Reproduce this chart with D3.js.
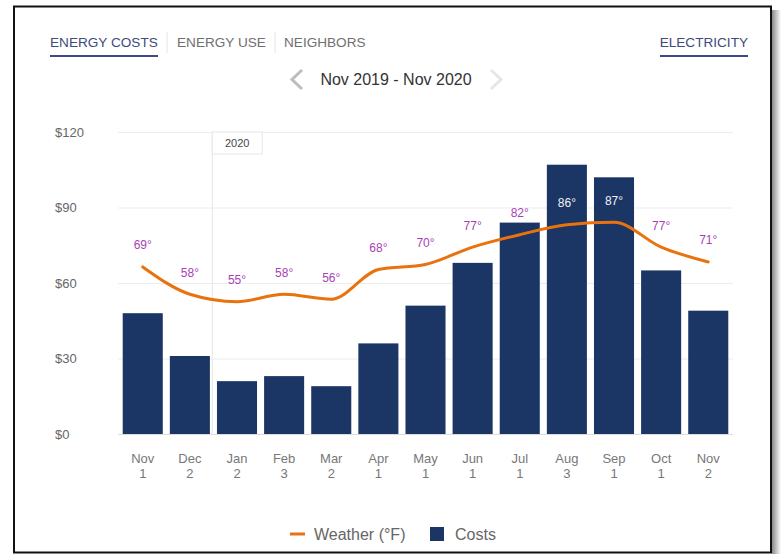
<!DOCTYPE html>
<html>
<head>
<meta charset="utf-8">
<script src="https://cdn.jsdelivr.net/npm/d3@7"></script>
<style>
  body { margin: 0; background: #fff; }
  svg { display: block; font-family: "Liberation Sans", Arial, sans-serif; }
</style>
</head>
<body>
<div id="chart"></div>
<script>
// Données
const months = ["Nov", "Dec", "Jan", "Feb", "Mar", "Apr", "May", "Jun", "Jul", "Aug", "Sep", "Oct", "Nov"];
const subLabels = ["1", "2", "2", "3", "2", "1", "1", "1", "1", "3", "1", "1", "2"];
const costs = [48, 31, 21, 23, 19, 36, 51, 68, 84, 107, 102, 65, 49];
const temps = [69, 58, 55, 58, 56, 68, 70, 77, 82, 86, 87, 77, 71];
const yTicks = [0, 30, 60, 90, 120];
const tabs = ["ENERGY COSTS", "ENERGY USE", "NEIGHBORS"];

const data = months.map((m, i) => ({ i, month: m, sub: subLabels[i], cost: costs[i], temp: temps[i] }));

//---------------------------------------------------------------------------------------
// Canevas
const W = 781, H = 554;
const marginL = 118, marginT = 132;
const width = 615, height = 302;

const svg = d3.select("#chart").append("svg")
    .attr("width", W)
    .attr("height", H);

// ombre à droite du cadre
const defs = svg.append("defs");
const grad = defs.append("linearGradient").attr("id", "shadow");
grad.append("stop").attr("offset", "0%").attr("stop-color", "#8a8a8a");
grad.append("stop").attr("offset", "100%").attr("stop-color", "#ffffff");
svg.append("rect")
    .attr("x", 772).attr("y", 10)
    .attr("width", 9).attr("height", 544)
    .attr("fill", "url(#shadow)");

// cadre
svg.append("rect")
    .attr("x", 14).attr("y", 6.5)
    .attr("width", 757).attr("height", 546)
    .attr("fill", "#fff")
    .attr("stroke", "#111")
    .attr("stroke-width", 2);

//---------------------------------------------------------------------------------------
// Onglets
const tabX = [50, 177, 284];
svg.selectAll(".tab")
    .data(tabs)
    .join("text")
    .attr("class", "tab")
    .attr("x", (d, i) => tabX[i])
    .attr("y", 47)
    .attr("font-size", "13.6px")
    .attr("fill", (d, i) => i === 0 ? "#3e4b7c" : "#707070")
    .text(d => d);

// séparateurs
[167, 275].forEach(x => {
    svg.append("line")
        .attr("x1", x).attr("x2", x)
        .attr("y1", 32).attr("y2", 53)
        .attr("stroke", "#e4e4e4");
});

svg.append("line")
    .attr("x1", 50).attr("x2", 158)
    .attr("y1", 56).attr("y2", 56)
    .attr("stroke", "#3b4a8a").attr("stroke-width", 2);

svg.append("text")
    .attr("x", 748).attr("y", 47)
    .attr("text-anchor", "end")
    .attr("font-size", "13.6px")
    .attr("fill", "#3e4b7c")
    .text("ELECTRICITY");

svg.append("line")
    .attr("x1", 660).attr("x2", 748)
    .attr("y1", 56).attr("y2", 56)
    .attr("stroke", "#3b4a8a").attr("stroke-width", 2);

// navigation date
svg.append("text")
    .attr("x", 396).attr("y", 85)
    .attr("text-anchor", "middle")
    .attr("font-size", "16px")
    .attr("fill", "#333")
    .text("Nov 2019 - Nov 2020");

svg.append("path")
    .attr("d", "M302,70 L292,79.5 L302,89")
    .attr("fill", "none").attr("stroke", "#bdbdbd").attr("stroke-width", 3);

svg.append("path")
    .attr("d", "M491,70 L501,79.5 L491,89")
    .attr("fill", "none").attr("stroke", "#e6e6e6").attr("stroke-width", 3);

//---------------------------------------------------------------------------------------
// Échelles
const plot = svg.append("g")
    .attr("transform", `translate(${marginL}, ${marginT})`);

const scaleX = d3.scaleBand()
    .domain(d3.range(data.length))
    .range([0, width])
    .paddingInner(0.15)
    .paddingOuter(0.1);

const scaleY = d3.scaleLinear()
    .domain([0, 120])
    .range([height, 0]);

const scaleT = d3.scaleLinear()
    .domain([0, 120])
    .range([height + 4, 8.5]);

//---------------------------------------------------------------------------------------
// Axe Y
const yAxis = plot.append("g")
    .call(d3.axisLeft(scaleY)
        .tickValues(yTicks)
        .tickSize(-width)
        .tickFormat(d => "$" + d))
    .call(g => g.select(".domain").remove());

yAxis.selectAll(".tick line")
    .attr("stroke", d => d === 0 ? "#dcdcdc" : "#ececec");

yAxis.selectAll(".tick text")
    .attr("x", 55 - marginL)
    .attr("text-anchor", "start")
    .attr("font-size", "13px")
    .attr("font-family", "Liberation Sans, Arial, sans-serif")
    .attr("fill", "#666");

// séparateur d'année
const yearX = scaleX.step() * 2;
plot.append("line")
    .attr("x1", yearX).attr("x2", yearX)
    .attr("y1", 0).attr("y2", height)
    .attr("stroke", "#e6e6e6");

plot.append("rect")
    .attr("x", yearX).attr("y", 0)
    .attr("width", 50).attr("height", 22)
    .attr("fill", "#fff")
    .attr("stroke", "#e6e6e6");

plot.append("text")
    .attr("x", yearX + 25).attr("y", 15)
    .attr("text-anchor", "middle")
    .attr("font-size", "11px")
    .attr("fill", "#444")
    .text("2020");

//---------------------------------------------------------------------------------------
// Axe X
const xAxis = plot.append("g")
    .attr("transform", `translate(0, ${height})`)
    .call(d3.axisBottom(scaleX).tickSize(0).tickFormat(""))
    .call(g => g.select(".domain").remove());

xAxis.selectAll(".tick").each(function (i) {
    const t = d3.select(this);
    t.append("text")
        .attr("y", 29)
        .attr("text-anchor", "middle")
        .attr("font-size", "13px")
        .attr("fill", "#777")
        .text(data[i].month);
    t.append("text")
        .attr("y", 44)
        .attr("text-anchor", "middle")
        .attr("font-size", "13px")
        .attr("fill", "#777")
        .text(data[i].sub);
});

//---------------------------------------------------------------------------------------
// Barres
plot.selectAll(".bar")
    .data(data)
    .join("rect")
    .attr("class", "bar")
    .attr("x", d => scaleX(d.i))
    .attr("y", d => scaleY(d.cost))
    .attr("width", scaleX.bandwidth())
    .attr("height", d => scaleY(0) - scaleY(d.cost))
    .attr("fill", "#1b3564");

//---------------------------------------------------------------------------------------
// Courbe météo
const line = d3.line()
    .x(d => scaleX(d.i) + scaleX.bandwidth() / 2)
    .y(d => scaleT(d.temp))
    .curve(d3.curveMonotoneX);

plot.append("path")
    .attr("d", line(data))
    .attr("fill", "none")
    .attr("stroke", "#e8730e")
    .attr("stroke-width", 3)
    .attr("stroke-linecap", "round");

plot.selectAll(".temp")
    .data(data)
    .join("text")
    .attr("class", "temp")
    .attr("x", d => scaleX(d.i) + scaleX.bandwidth() / 2)
    .attr("y", d => scaleT(d.temp) - 17.5)
    .attr("text-anchor", "middle")
    .attr("font-size", "12px")
    .attr("fill", d => (scaleT(d.temp) - 26 > scaleY(d.cost)) ? "#f2f2f2" : "#a83fb5")
    .text(d => d.temp + "°");

//---------------------------------------------------------------------------------------
// Légende
const legend = svg.append("g");

legend.append("line")
    .attr("x1", 290).attr("x2", 305)
    .attr("y1", 534).attr("y2", 534)
    .attr("stroke", "#e8730e").attr("stroke-width", 3);

legend.append("text")
    .attr("x", 314).attr("y", 539.5)
    .attr("font-size", "16px")
    .attr("fill", "#666")
    .text("Weather (°F)");

legend.append("rect")
    .attr("x", 430).attr("y", 527)
    .attr("width", 14).attr("height", 14)
    .attr("fill", "#1b3564");

legend.append("text")
    .attr("x", 455).attr("y", 539.5)
    .attr("font-size", "16px")
    .attr("fill", "#666")
    .text("Costs");
</script>
</body>
</html>
